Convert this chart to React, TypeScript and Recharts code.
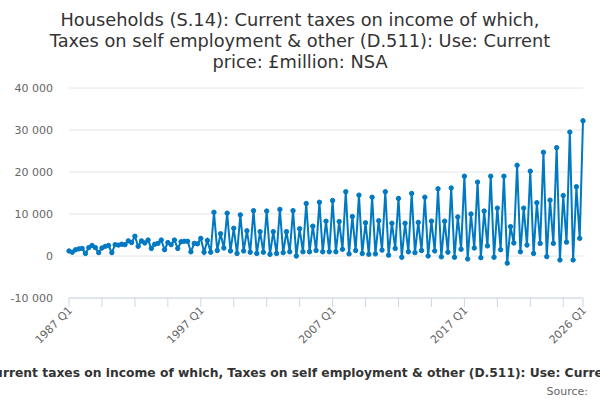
import { CartesianGrid, Line, LineChart, XAxis, YAxis } from "recharts";

const startYear = 1987;

// £million, one row per year: Q1, Q2, Q3, Q4
const taxes = [
  1200, 900, 1500, 1700, // 1987
  1800, 600, 2000, 2500, // 1988
  2000, 800, 1900, 2300, // 1989
  2500, 800, 2700, 2600, // 1990
  2800, 2700, 3600, 3200, // 1991
  4700, 2300, 3600, 3100, // 1992
  3800, 1800, 2800, 3000, // 1993
  3800, 1500, 3200, 2700, // 1994
  3800, 1800, 3400, 3500, // 1995
  3500, 1000, 3000, 2900, // 1996
  4200, 900, 3700, 900, // 1997
  10400, 1300, 5300, 1900, // 1998
  10200, 1200, 6600, 600, // 1999
  9800, 1200, 6000, 900, // 2000
  10800, 600, 5800, 900, // 2001
  10700, 400, 5800, 600, // 2002
  11100, 800, 5800, 1000, // 2003
  10800, 0, 6500, 1000, // 2004
  12500, 1000, 7100, 1300, // 2005
  12800, 1000, 8300, 1000, // 2006
  13200, 1000, 8200, 1600, // 2007
  15300, 500, 9400, 1300, // 2008
  14500, 600, 7900, 400, // 2009
  14000, 500, 8400, 1400, // 2010
  15300, 200, 7800, 1800, // 2011
  13700, -300, 7800, 1000, // 2012
  14900, 800, 8000, 1300, // 2013
  14000, 0, 8300, 1200, // 2014
  16000, -200, 8300, 900, // 2015
  16200, -300, 9300, 1600, // 2016
  19000, -700, 10000, 1900, // 2017
  17600, -400, 10700, 2400, // 2018
  19000, -300, 11400, 1500, // 2019
  19000, -1700, 7000, 3100, // 2020
  21600, 1000, 11400, 2600, // 2021
  20200, 600, 12700, 3000, // 2022
  24700, -150, 13300, 3000, // 2023
  25800, -950, 14400, 3300, // 2024
  29500, -950, 16500, 4200, // 2025
  32200, // 2026
];

const quarters = taxes.map(
  (_, i) => `${startYear + Math.floor(i / 4)} Q${(i % 4) + 1}`
);

const xTicks = [0, 10, 20, 30, 40, 50, 60, 70, 80, 90, 100, 110, 120, 130, 140, 150, 156];
const xLabels = ["1987 Q1", "1997 Q1", "2007 Q1", "2017 Q1", "2026 Q1"];
const yTicks = [-10000, 0, 10000, 20000, 30000, 40000];

const title = [
  "Households (S.14): Current taxes on income of which,",
  "Taxes on self employment & other (D.511): Use: Current",
  "price: £million: NSA",
];
const fullTitle =
  "Households (S.14): Current taxes on income of which, Taxes on self employment & other (D.511): Use: Current price: £million: NSA";

const data = taxes.map((v, i) => ({ i, v }));

const font = "DejaVu Sans, sans-serif";
const blue = "#0079c2";

const fmtSpace = (v: number) =>
  (v < 0 ? "-" : "") + String(Math.abs(v)).replace(/\B(?=(\d{3})+(?!\d))/g, " ");

function QuarterTick({ x, y, payload }: any) {
  const label = quarters[payload.value];
  if (!xLabels.includes(label)) return null;
  const px = x + 4;
  const py = y + 2;
  return (
    <text
      x={px}
      y={py}
      transform={`rotate(-45 ${px} ${py})`}
      textAnchor="end"
      fontSize={11}
      fontFamily={font}
      fill="#666666"
    >
      {label}
    </text>
  );
}

export default function App() {
  return (
    <div style={{ position: "absolute", left: 0, top: 0, width: 600, height: 400, background: "#fff" }}>
      <LineChart
        width={600}
        height={400}
        data={data}
        margin={{ top: 88, right: 17, bottom: 42, left: 9 }}
      >
        <CartesianGrid vertical={false} stroke="#e6e6e6" />
        <XAxis
          dataKey="i"
          type="number"
          domain={[0, 156]}
          ticks={xTicks}
          interval={0}
          height={60}
          stroke="#ccd6eb"
          tickSize={9}
          tickMargin={2}
          tick={<QuarterTick />}
        />
        <YAxis
          type="number"
          domain={[-10000, 40000]}
          ticks={yTicks}
          width={60}
          axisLine={false}
          tickLine={false}
          tickSize={8}
          tickMargin={8}
          tickFormatter={fmtSpace}
          tick={{ fontSize: 11, fontFamily: font, fill: "#666666" }}
        />
        <Line
          dataKey="v"
          stroke={blue}
          strokeWidth={2}
          dot={{ r: 2.2, fill: blue, stroke: blue, strokeWidth: 1 }}
          isAnimationActive={false}
        />
      </LineChart>
      <svg
        width={600}
        height={400}
        style={{ position: "absolute", left: 0, top: 0, pointerEvents: "none" }}
      >
        {title.map((t, k) => (
          <text
            key={t}
            x={300}
            y={26 + k * 21}
            textAnchor="middle"
            fontSize={17.8}
            fontFamily={font}
            fill="#333333"
          >
            {t}
          </text>
        ))}
        <text
          x={304}
          y={377}
          textAnchor="middle"
          fontSize={12.3}
          fontWeight="bold"
          fontFamily={font}
          fill="#333333"
        >
          {fullTitle}
        </text>
        <text x={588} y={395} textAnchor="end" fontSize={11} fontFamily={font} fill="#666666">
          Source:
        </text>
      </svg>
    </div>
  );
}
